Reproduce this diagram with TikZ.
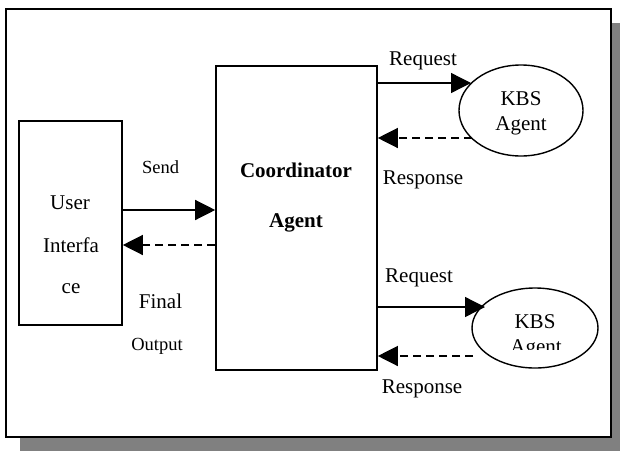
\documentclass[tikz,border=0pt]{standalone}
\usepackage{fontspec}
\setmainfont{Liberation Serif}
\usetikzlibrary{arrows.meta,shapes.geometric}
\definecolor{shadowgray}{HTML}{808080}
\begin{document}
\begin{tikzpicture}[x=1pt,y=-1pt,
  boxnode/.style={draw,line width=1.6pt,inner sep=0pt,rectangle},
  ellnode/.style={draw,line width=1.4pt,inner sep=0pt,ellipse},
  lbl/.style={anchor=base,inner sep=0pt,font=\fontsize{21}{25}\selectfont},
  smalllbl/.style={anchor=base,inner sep=0pt,font=\fontsize{18.5}{22}\selectfont},
  boldlbl/.style={anchor=base,inner sep=0pt,font=\fontsize{21}{25}\selectfont\bfseries},
  solidarr/.style={line width=1.3pt,-{Triangle[length=20pt,width=20pt]}},
  dasharr/.style={line width=1.3pt,dash pattern=on 8pt off 5pt,-{Triangle[length=20pt,width=20pt]}}]
\useasboundingbox (0,0) rectangle (620,450);
% frame with shadow
\fill[shadowgray] (20,23) rectangle (626,456);
\draw[fill=white,line width=2.2pt] (6,9) rectangle (611,437);
% boxes
\node[boxnode,minimum width=103pt,minimum height=204pt] (ui) at (70.5,223) {};
\node[boxnode,minimum width=161pt,minimum height=304pt] (coord) at (296.5,218) {};
\node[ellnode,minimum width=124pt,minimum height=91pt] (kbs1) at (521,110.5) {};
\node[ellnode,minimum width=126pt,minimum height=80pt] (kbs2) at (535,328) {};
% texts
\node[lbl] (t-user) at (70,209) {User};
\node[lbl] (t-interfa) at (71,252) {Interfa};
\node[lbl] (t-ce) at (71,293) {ce};
\node[boldlbl] (t-coord) at (296,177) {Coordinator};
\node[boldlbl] (t-cagent) at (296,227) {Agent};
\node[smalllbl] (t-send) at (160.5,173) {Send};
\node[lbl] (t-final) at (160.5,308) {Final};
\node[smalllbl] (t-output) at (157,350) {Output};
\node[lbl] (t-req1) at (423,65) {Request};
\node[lbl] (t-resp1) at (423,184) {Response};
\node[lbl] (t-req2) at (419,282) {Request};
\node[lbl] (t-resp2) at (422,393.5) {Response};
\node[lbl] (t-kbs1) at (521,105) {KBS};
\node[lbl] (t-ag1) at (521,130.5) {Agent};
\node[lbl] (t-kbs2) at (535,328) {KBS};
\begin{scope}
  \clip (490,330) rectangle (590,349.5);
  \node[lbl] (t-ag2) at (536,353) {Agent};
\end{scope}
% connector end points on the ellipses
\coordinate (r1) at (471,83);
\coordinate (s1) at (472,138);
\coordinate (r2) at (485,307);
\coordinate (s2) at (473,356);
\coordinate (ysend) at (0,210);
\coordinate (yfinal) at (0,245);
% connectors
\draw[solidarr] (ui.east |- ysend) -- (coord.west |- ysend);
\draw[dasharr] (coord.west |- yfinal) -- (ui.east |- yfinal);
\draw[solidarr] (coord.east |- r1) -- (r1);
\draw[dasharr] (s1) -- (coord.east |- s1);
\draw[solidarr] (coord.east |- r2) -- (r2);
\draw[dasharr] (s2) -- (coord.east |- s2);
\end{tikzpicture}
\end{document}
